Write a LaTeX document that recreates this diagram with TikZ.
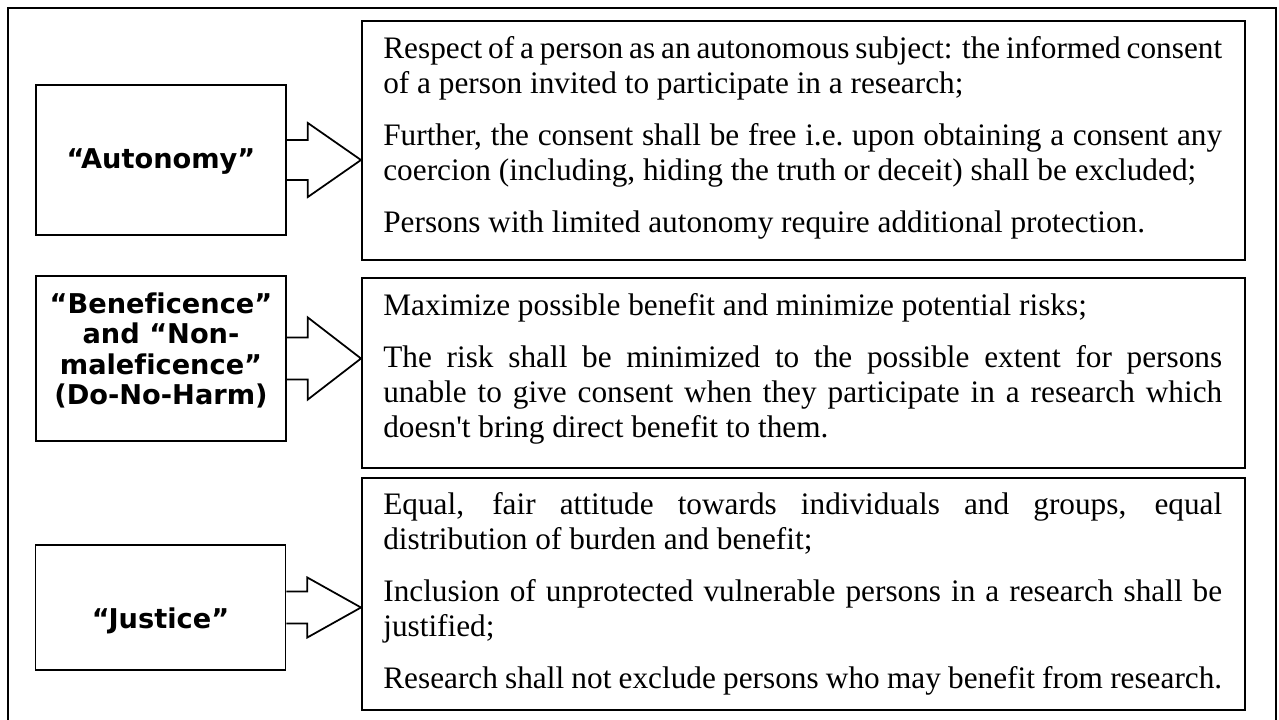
\documentclass[tikz,border=0pt]{standalone}
\usepackage{fontspec}
\setmainfont{Liberation Serif}[Ligatures={TeX,NoCommon}]
\newfontfamily\headfont{DejaVu Sans}[Ligatures={TeX,NoCommon}]
\usepackage{tikz}
\usetikzlibrary{calc,positioning}

\tikzset{
    frameline/.style={line width=1pt},
    leftbox/.style={draw, line width=1pt, minimum width=5cm},
    leftlabel/.style={align=center, inner sep=0pt, font=\headfont\bfseries\fontsize{15.5pt}{17.4pt}\selectfont},
    rightbox/.style={draw, line width=1pt, minimum width=17.66cm, anchor=north west},
    ruletext/.style={anchor=north west, inner sep=0pt, text width=16.78cm, align=justify, font=\fontsize{17.8pt}{19.9pt}\selectfont},
    arrowline/.style={line width=1pt, line join=miter}
}

% block arrow: from box #1 to box #2, shaft half height #3, head half height #4
\newcommand{\blockarrow}[4]{%
    \draw[arrowline] ($(#1.east)+(0,-#3)$) -- ++(21,0) -- ($(#1.east)+(21,-#4)$)
        -- (#2.west |- #1.east)
        -- ($(#1.east)+(21,#4)$) -- ($(#1.east)+(21,#3)$) -- ($(#1.east)+(0,#3)$);
}

\begin{document}
\begin{tikzpicture}[x=0.02cm, y=-0.02cm]
    \useasboundingbox (0,0) rectangle (1279,720);

    % Outer frame (cut at the bottom)
    \draw[frameline] (8,720) -- (8,8) -- (1276,8) -- (1276,720);

    % Principles
    \node[leftbox, minimum height=3cm] (aut) at (161,160) {};
    \node[leftlabel] (autlabel) at ($(aut.center)+(0,2)$) {“Autonomy”};

    \node[leftbox, minimum height=3.3cm] (ben) at (161,358.5) {};
    \node[leftlabel] (benlabel) at ($(ben.center)+(0,-8)$) {“Beneficence”\\and “Non-\\maleficence”\\(Do-No-Harm)};

    \node[leftbox, minimum height=2.5cm] (jus) at (160.5,607.5) {};
    \node[leftlabel] (juslabel) at ($(jus.center)+(0,13)$) {“Justice”};

    % Descriptions
    \node[rightbox, minimum height=4.78cm] (autdesc) at (361,20) {};
    \node[ruletext] (auttext) at ($(autdesc.north west)+(22,16)$) {%
        \setlength{\parskip}{9.7pt}%
        Respect of a person as an autonomous subject: the informed consent\linebreak
        of a person invited to participate in a research;\par
        Further, the consent shall be free i.e.\ upon obtaining a consent any\linebreak
        coercion (including, hiding the truth or deceit) shall be excluded;\par
        Persons with limited autonomy require additional protection.};

    \node[rightbox, minimum height=3.8cm] (bendesc) at (361,277) {};
    \node[ruletext] (bentext) at ($(bendesc.north west)+(22,16)$) {%
        \setlength{\parskip}{9.7pt}%
        Maximize possible benefit and minimize potential risks;\par
        The risk shall be minimized to the possible extent for persons\linebreak
        unable to give consent when they participate in a research which\linebreak
        doesn\textquotesingle t bring direct benefit to them.};

    \node[rightbox, minimum height=4.64cm] (jusdesc) at (361,477) {};
    \node[ruletext] (justext) at ($(jusdesc.north west)+(22,15)$) {%
        \setlength{\parskip}{9.7pt}%
        Equal, fair attitude towards individuals and groups, equal\linebreak
        distribution of burden and benefit;\par
        Inclusion of unprotected vulnerable persons in a research shall be\linebreak
        justified;\par
        Research shall not exclude persons who may benefit from research.};

    % Arrows
    \blockarrow{aut}{autdesc}{20}{37}
    \blockarrow{ben}{bendesc}{21}{41}
    \blockarrow{jus}{jusdesc}{16}{30}
\end{tikzpicture}
\end{document}
